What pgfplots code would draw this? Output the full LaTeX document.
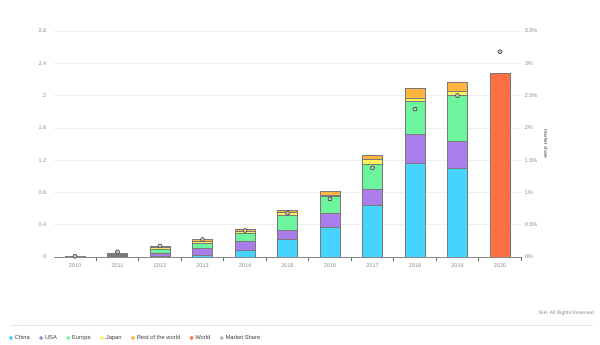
\documentclass[border=0pt]{standalone}
\usepackage{pgfplots}
\pgfplotsset{compat=1.18}
\usepackage{fontspec}
\setmainfont{Liberation Sans}
\definecolor{cChina}{HTML}{45D3FF}
\definecolor{cUSA}{HTML}{A97DEA}
\definecolor{cEurope}{HTML}{6CF59C}
\definecolor{cJapan}{HTML}{FFF15C}
\definecolor{cRow}{HTML}{FFB43F}
\definecolor{cWorld}{HTML}{FF7043}
\definecolor{cGrid}{HTML}{EFEFEF}
\definecolor{cTick}{HTML}{8A8A8A}
\definecolor{cOutline}{HTML}{7A7A7A}
\definecolor{cSep}{HTML}{E6E6E6}
\begin{document}
\begin{tikzpicture}
\useasboundingbox (0pt,0pt) rectangle (600pt,345pt);
\draw[cSep, line width=0.6pt] (10pt,20pt) -- (593pt,20pt);
\node[anchor=east, font=\fontsize{5}{6}\selectfont, text=cTick, inner sep=0pt] at (594pt,32pt) {IEA. All Rights Reserved};
\begin{axis}[
  at={(53.75pt,88pt)}, anchor=south west, scale only axis,
  width=467.5pt, height=226pt,
  xmin=-0.5, xmax=10.5, ymin=0, ymax=2.8,
  ybar stacked, bar width=20pt,
  axis x line*=bottom, axis y line*=left,
  y axis line style={draw=none},
  x axis line style={cTick, line width=0.7pt, -},
  xtick={0.5,1.5,2.5,3.5,4.5,5.5,6.5,7.5,8.5,9.5,10.5},
  xticklabels={},
  major tick length=4pt, tick align=outside,
  x tick style={black!60, line width=0.7pt},
  extra x ticks={0,1,2,3,4,5,6,7,8,9,10},
  extra x tick labels={2010,2011,2012,2013,2014,2015,2016,2017,2018,2019,2020},
  extra x tick style={major tick length=0pt, tick style={draw=none},
    xticklabel style={yshift=-3pt}},
  ytick={0,0.4,0.8,1.2,1.6,2,2.4,2.8},
  yticklabels={0,0.4,0.8,1.2,1.6,2,2.4,2.8},
  y tick style={draw=none},
  ymajorgrids, major grid style={cGrid, line width=0.6pt},
  tick label style={font=\fontsize{5.5}{6}\selectfont, text=cTick},
  every axis plot/.append style={draw=cOutline, line width=0.5pt},
]
\addplot[fill=cChina] coordinates {(0,0.002) (1,0.005) (2,0.006) (3,0.02) (4,0.08) (5,0.22) (6,0.37) (7,0.64) (8,1.16) (9,1.10) (10,0)};
\addplot[fill=cUSA] coordinates {(0,0.003) (1,0.015) (2,0.045) (3,0.09) (4,0.11) (5,0.11) (6,0.17) (7,0.20) (8,0.36) (9,0.33) (10,0)};
\addplot[fill=cEurope] coordinates {(0,0.003) (1,0.02) (2,0.04) (3,0.06) (4,0.11) (5,0.19) (6,0.21) (7,0.31) (8,0.41) (9,0.58) (10,0)};
\addplot[fill=cJapan] coordinates {(0,0.002) (1,0.007) (2,0.03) (3,0.03) (4,0.02) (5,0.03) (6,0.02) (7,0.06) (8,0.04) (9,0.04) (10,0)};
\addplot[fill=cRow] coordinates {(0,0.001) (1,0.003) (2,0.01) (3,0.02) (4,0.02) (5,0.03) (6,0.04) (7,0.05) (8,0.12) (9,0.12) (10,0)};
\addplot[fill=cWorld] coordinates {(0,0) (1,0) (2,0) (3,0) (4,0) (5,0) (6,0) (7,0) (8,0) (9,0) (10,2.28)};
\end{axis}
\begin{axis}[
  at={(53.75pt,88pt)}, anchor=south west, scale only axis,
  width=467.5pt, height=226pt,
  xmin=-0.5, xmax=10.5, ymin=0, ymax=3.5,
  axis x line=none, axis y line*=right,
  y axis line style={draw=none},
  ytick={0,0.5,1,1.5,2,2.5,3,3.5},
  yticklabels={0\%,0.5\%,1\%,1.5\%,2\%,2.5\%,3\%,3.5\%},
  y tick style={draw=none},
  yticklabel style={font=\fontsize{5.5}{6}\selectfont, text=cTick},
  ylabel={market share},
  ylabel style={rotate=180, font=\fontsize{5}{6}\selectfont, text=black!70},
  legend style={at={(-0.0962,-0.358)}, anchor=west, draw=none, fill=none,
    legend columns=-1, font=\fontsize{5.8}{6.5}\selectfont, text=black!75,
    inner sep=0pt, nodes={inner sep=1.8pt},
    /tikz/every even column/.append style={column sep=7.5pt}},
  legend image code/.code={\fill[#1] (0pt,0pt) circle (1.8pt);},
]
\addlegendimage{cChina}
\addlegendentry{China}
\addlegendimage{cUSA}
\addlegendentry{USA}
\addlegendimage{cEurope}
\addlegendentry{Europe}
\addlegendimage{cJapan}
\addlegendentry{Japan}
\addlegendimage{cRow}
\addlegendentry{Rest of the world}
\addlegendimage{cWorld}
\addlegendentry{World}
\addplot[only marks, mark=*, mark size=2pt,
  mark options={fill=gray!45, draw=black!75, line width=0.6pt},
  legend image code/.code={\fill[gray!55] (0pt,0pt) circle (1.8pt);}]
  coordinates {(0,0.01) (1,0.08) (2,0.17) (3,0.27) (4,0.41) (5,0.68) (6,0.90) (7,1.38) (8,2.29) (9,2.50) (10,3.18)};
\addlegendentry{Market Share}
\end{axis}
\end{tikzpicture}
\end{document}
